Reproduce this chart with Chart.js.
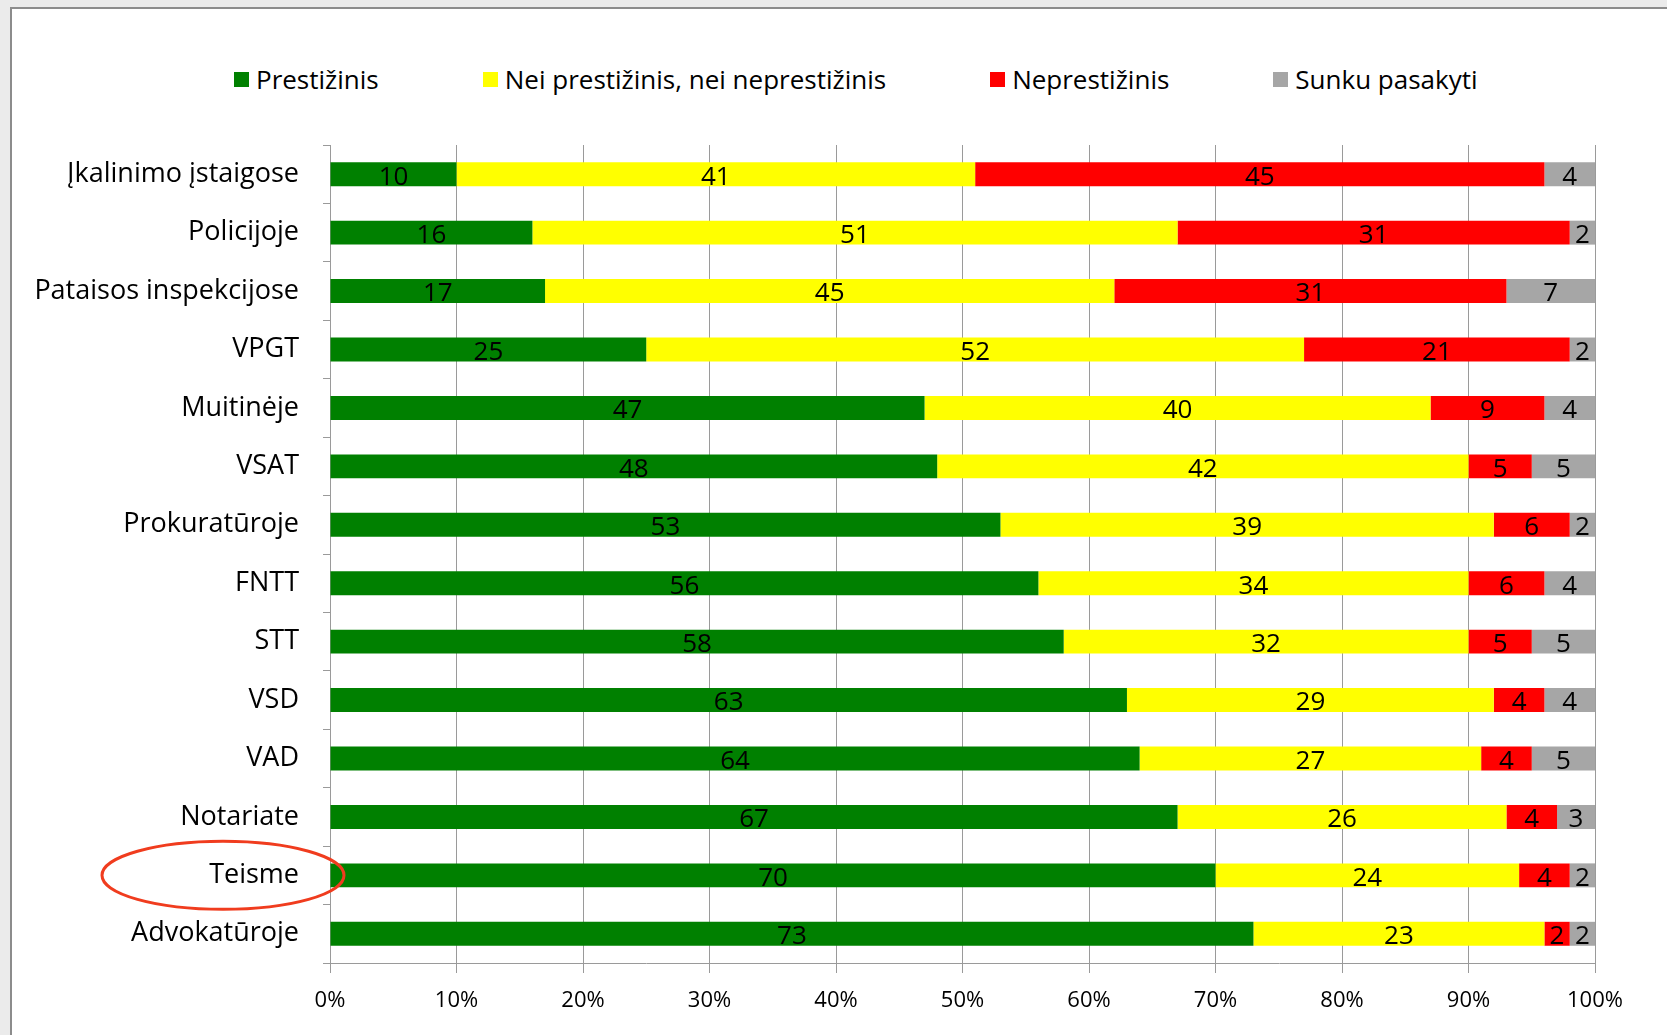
<!DOCTYPE html>
<html>
<head>
<meta charset="utf-8">
<script src="https://cdn.jsdelivr.net/npm/chart.js"></script>
<title>Prestižas</title>
<style>
  body { margin: 0; width: 1667px; height: 1035px; overflow: hidden; background: #ebebeb; font-family: "Open Sans", sans-serif; }
  #box { position: absolute; left: 10px; top: 7px; right: 0; bottom: 0; background: #fff; border-left: 2px solid #8c8c8c; border-top: 2px solid #8c8c8c; }
  #legend { position: absolute; top: 61px; left: 234px; display: flex; gap: 104px; font-size: 26px; color: #000; }
  #legend .item { display: flex; align-items: center; }
  #legend .sw { width: 15px; height: 15px; margin-right: 7px; }
  #wrap { position: absolute; left: 0; top: 0; width: 1667px; height: 1035px; }
</style>
</head>
<body>
<div id="box"></div>
<div id="legend"></div>
<div id="wrap"><canvas id="myChart"></canvas></div>

<script>
const categories = ['Įkalinimo įstaigose', 'Policijoje', 'Pataisos inspekcijose', 'VPGT', 'Muitinėje', 'VSAT',
  'Prokuratūroje', 'FNTT', 'STT', 'VSD', 'VAD', 'Notariate', 'Teisme', 'Advokatūroje'];
const prestizinis   = [10, 16, 17, 25, 47, 48, 53, 56, 58, 63, 64, 67, 70, 73];
const nei           = [41, 51, 45, 52, 40, 42, 39, 34, 32, 29, 27, 26, 24, 23];
const neprestizinis = [45, 31, 31, 21,  9,  5,  6,  6,  5,  4,  4,  4,  4,  2];
const sunku         = [ 4,  2,  7,  2,  4,  5,  2,  4,  5,  4,  5,  3,  2,  2];
const seriesNames = ['Prestižinis', 'Nei prestižinis, nei neprestižinis', 'Neprestižinis', 'Sunku pasakyti'];
const seriesColors = ['#008000', '#ffff00', '#ff0000', '#a6a6a6'];
const markedCategory = 'Teisme';

const allSeries = [prestizinis, nei, neprestizinis, sunku];
const datasets = allSeries.map((vals, i) => ({
  label: seriesNames[i],
  data: vals,
  backgroundColor: seriesColors[i],
  borderWidth: 0,
  barPercentage: 0.41,
  categoryPercentage: 1
}));

// legend as html
const legend = document.getElementById('legend');
seriesNames.forEach((name, i) => {
  const item = document.createElement('div');
  item.className = 'item';
  const sw = document.createElement('span');
  sw.className = 'sw';
  sw.style.background = seriesColors[i];
  const txt = document.createElement('span');
  txt.textContent = name;
  item.appendChild(sw);
  item.appendChild(txt);
  legend.appendChild(item);
});

const valueLabels = {
  id: 'valueLabels',
  afterDatasetsDraw(chart) {
    const ctx = chart.ctx;
    ctx.save();
    ctx.font = '26px "Open Sans"';
    ctx.fillStyle = '#000';
    ctx.textAlign = 'center';
    ctx.textBaseline = 'middle';
    chart.data.datasets.forEach((ds, i) => {
      chart.getDatasetMeta(i).data.forEach((bar, j) => {
        const p = bar.getProps(['x', 'y', 'base'], true);
        ctx.fillText(ds.data[j], (p.x + p.base) / 2, p.y + 3);
      });
    });
    ctx.restore();
  }
};

const ellipse = {
  id: 'ellipse',
  afterDraw(chart) {
    const ctx = chart.ctx;
    const y = chart.scales.y.getPixelForValue(categories.indexOf(markedCategory));
    const x = chart.chartArea.left - 107;
    ctx.save();
    ctx.strokeStyle = '#f03c1e';
    ctx.lineWidth = 3;
    ctx.beginPath();
    ctx.ellipse(x, y, 121, 34, 0, 0, Math.PI * 2);
    ctx.stroke();
    ctx.restore();
  }
};

new Chart(document.getElementById('myChart'), {
  type: 'bar',
  data: { labels: categories, datasets: datasets },
  options: {
    indexAxis: 'y',
    responsive: true,
    maintainAspectRatio: false,
    animation: false,
    layout: { padding: { left: 30, right: 72, top: 145, bottom: 0 } },
    plugins: {
      legend: { display: false },
      tooltip: { enabled: false }
    },
    scales: {
      x: {
        stacked: true,
        min: 0,
        max: 100,
        afterFit(scale) { scale.height = 72; },
        ticks: {
          stepSize: 10,
          padding: 15,
          color: '#000',
          font: { family: 'Open Sans', size: 22 },
          callback: v => v + '%'
        },
        grid: { color: '#9a9a9a', lineWidth: 1, tickLength: 10 },
        border: { color: '#9a9a9a' }
      },
      y: {
        stacked: true,
        afterFit(scale) { scale.width = 300; },
        ticks: {
          padding: 24,
          color: '#000',
          font: { family: 'Open Sans', size: 27 }
        },
        grid: { color: '#9a9a9a', drawOnChartArea: false, tickLength: 7 },
        border: { color: '#9a9a9a' }
      }
    }
  },
  plugins: [valueLabels, ellipse]
});
</script>
</body>
</html>
